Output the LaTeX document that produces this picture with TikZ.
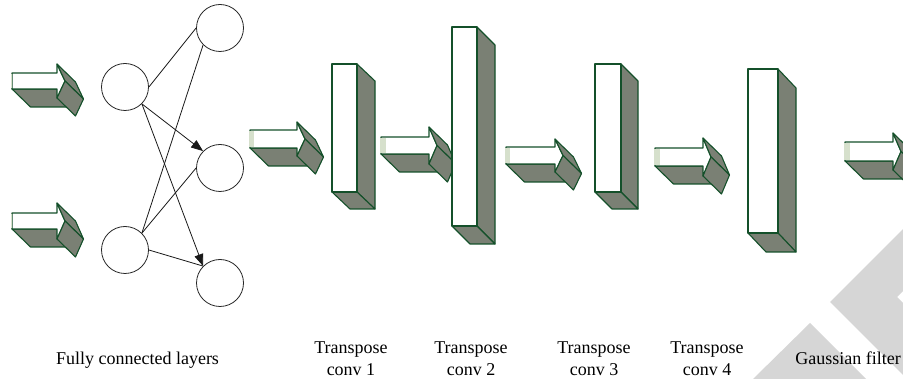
\documentclass[tikz,border=0pt]{standalone}
\usepackage{fontspec}
\setmainfont{Liberation Serif}
\usetikzlibrary{arrows.meta}
\definecolor{facegray}{HTML}{7A8074}
\definecolor{edgegreen}{HTML}{14502A}
\definecolor{stripegreen}{HTML}{D6E0CC}
\definecolor{wmgray}{HTML}{D6D6D6}
\tikzset{
  face/.style={fill=facegray,draw=edgegreen,line width=1.1pt,line join=round},
  front/.style={fill=white,draw=edgegreen,line width=1.1pt,line join=round},
  stripefill/.style={fill=stripegreen},
  neuron/.style={circle,draw=black!85,line width=0.8pt,minimum size=47pt,inner sep=0pt},
  link/.style={draw=black!90,line width=0.8pt},
  linkarrow/.style={link,-{Triangle[length=12pt,width=9pt]}},
  lbl/.style={font=\fontsize{18}{22}\selectfont,align=center,inner sep=0pt,anchor=base},
  wm/.style={fill=wmgray}
}
% 3D arrow: #1 left x, #2 shaft right x, #3 top y, #4 bottom y, #5 head overhang, #6 stripe width
\newcommand\tdarrow[6]{%
  \pgfmathsetmacro\tdHt{#3-#5}%
  \pgfmathsetmacro\tdHb{#4+#5}%
  \pgfmathsetmacro\tdTx{#2+8}%
  \pgfmathsetmacro\tdTy{(#3+#4)/2}%
  \filldraw[face] (#1,#4) -- (#2,#4) -- ({#2+18.5},{#4+18}) -- ({#1+18.5},{#4+18}) -- cycle;
  \filldraw[front] (#1,#3) -- (#2,#3) -- (#2,\tdHt) -- (\tdTx,\tdTy) -- (#2,\tdHb) -- (#2,#4) -- (#1,#4) -- cycle;
  \fill[stripefill] ({#1-0.6},{#3+0.6}) rectangle ({#1+#6},{#4-0.6});
  \filldraw[face] (#2,\tdHt) -- (\tdTx,\tdTy) -- ({\tdTx+18.5},{\tdTy+18}) -- ({#2+18.5},{\tdHt+18}) -- cycle;
  \filldraw[face] (\tdTx,\tdTy) -- (#2,\tdHb) -- ({#2+18.5},{\tdHb+18}) -- ({\tdTx+18.5},{\tdTy+18}) -- cycle;
}
% 3D box: #1 x0, #2 x1, #3 y0, #4 y1, #5 ex, #6 ey
\newcommand\tdbox[6]{%
  \filldraw[face] (#2,#3) -- ({#2+#5},{#3+#6}) -- ({#2+#5},{#4+#6}) -- (#2,#4) -- cycle;
  \filldraw[face] (#1,#4) -- (#2,#4) -- ({#2+#5},{#4+#6}) -- ({#1+#5},{#4+#6}) -- cycle;
  \filldraw[front] (#1,#3) rectangle (#2,#4);
}
\begin{document}
\begin{tikzpicture}[x=1pt,y=-1pt]
\useasboundingbox (0,0) rectangle (903,379);
\begin{scope}
\clip (0,0) rectangle (903,379);
% watermark shapes
\fill[wm] (753,379) -- (810,323) -- (866,379) -- cycle;
\fill[wm] (830,302) -- (903,229) -- (903,291) -- (897,297) -- (903,303) -- (903,375) -- cycle;
% input arrows
\tdarrow{12}{57}{73}{89}{9}{0}
\tdarrow{12}{57}{213}{229}{10}{0}
% fully connected layers
\node[neuron] (L1) at (125,87) {};
\node[neuron] (L2) at (125,250) {};
\node[neuron] (R1) at (220,28) {};
\node[neuron] (R2) at (220,168) {};
\node[neuron] (R3) at (220,283) {};
\draw[link] (L1.east) -- (R1.west);
\draw[linkarrow] (L1.south east) -- (R2.north west);
\draw[linkarrow] (L1.south east) -- (R3.north west);
\draw[link] (L2.north east) -- (R1.south west);
\draw[link] (L2.north east) -- (R2.west);
\draw[link] (L2.east) -- (R3.north west);
% transpose conv arrows and boxes
\tdarrow{250}{297}{130}{148}{8}{4}
\tdbox{332}{357}{64}{192}{18}{17}
\tdarrow{381}{429}{137}{154}{10}{5}
\tdbox{452}{477}{27}{226}{18}{18}
\tdarrow{506}{555}{147}{164}{8}{4}
\tdbox{595}{621}{64}{192}{17}{17}
\tdarrow{655}{703}{148}{166}{10}{5}
\tdbox{748}{778}{69}{233}{18}{19}
\tdarrow{845}{893}{142}{161}{9}{5}
\end{scope}
% labels
\node[lbl] (t0) at (137.5,365) {Fully connected layers};
\node[lbl] (t1) at (351,376) {Transpose\\conv 1};
\node[lbl] (t2) at (471,376) {Transpose\\conv 2};
\node[lbl] (t3) at (594,376) {Transpose\\conv 3};
\node[lbl] (t4) at (707,376) {Transpose\\conv 4};
\node[lbl] (t5) at (848,365) {Gaussian filter};
\end{tikzpicture}
\end{document}
